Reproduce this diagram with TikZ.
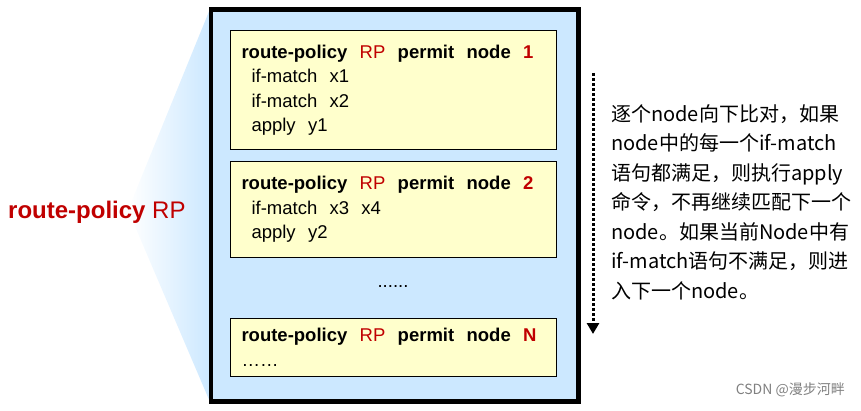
\documentclass[tikz,border=0pt]{standalone}
\usepackage{fontspec}
\setmainfont{Liberation Sans}
\newfontfamily\cjkfont{Noto Sans CJK SC}
\usetikzlibrary{positioning, arrows.meta}

\definecolor{rpred}{HTML}{C00000}
\definecolor{paneblue}{HTML}{CCE8FF}
\definecolor{nodeyellow}{HTML}{FFFFCC}

\tikzset{
    nodebox/.style={draw, line width=1pt, fill=nodeyellow, anchor=north west, align=left,
        minimum width=326pt, text width=304pt, inner xsep=11pt, inner ysep=0pt,
        font=\fontsize{18.5}{24.5}\selectfont},
}
\newcommand{\rp}{\textmd{\textcolor{rpred}{RP}}}
\newcommand{\ind}{\hspace*{10pt}}

\begin{document}
\begin{tikzpicture}[x=1pt, y=-1pt]
    \useasboundingbox (0, 0) rectangle (861, 411);
    \node (pane) [draw, line width=3pt, fill=paneblue, anchor=north west, minimum width=366pt, minimum height=390pt] at (210, 9) {};
    \coordinate (apex) at (128, 210);
    \shade [left color=white, middle color=paneblue!35, right color=paneblue] (pane.north west) -- (apex) -- (pane.south west) -- cycle;
    \draw [line width=3pt] (pane.north west) rectangle (pane.south east);

    \node (label) [anchor=west, inner sep=0pt, font=\fontsize{24}{24}\selectfont, text=rpred] at (8, 212) {\textbf{route-policy} RP};

    \node (node1) [nodebox, minimum height=119pt] at (230, 30) {\textbf{route-policy~~\rp~~permit~~node~~\textcolor{rpred}{1}}\\
        \ind if-match~~x1\\
        \ind if-match~~x2\\
        \ind apply~~y1};
    \node (node2) [nodebox, minimum height=96pt] at (230, 161) {\textbf{route-policy~~\rp~~permit~~node~~\textcolor{rpred}{2}}\\
        \ind if-match~~x3~~x4\\
        \ind apply~~y2};
    \node (dots) [font=\fontsize{18.5}{24.5}\selectfont] at (393, 287) {......};
    \node (nodeN) [nodebox, minimum height=58pt] at (230, 318) {\textbf{route-policy~~\rp~~permit~~node~~\textcolor{rpred}{N}}\\
        ……};

    % direction of matching
    \coordinate (flowtop) at (593, 73);
    \coordinate (flowend) at (593, 334);
    \draw [line width=3pt, dash pattern=on 3pt off 2pt, -{Triangle[length=11pt, width=12pt]}] (flowtop) -- (flowend);

    \node (note) [anchor=west, align=left, inner sep=0pt, font=\cjkfont\fontsize{20}{29.5}\selectfont] at (611, 202) {逐个node向下比对，如果\\
        node中的每一个if-match\\
        语句都满足，则执行apply\\
        命令，不再继续匹配下一个\\
        node。如果当前Node中有\\
        if-match语句不满足，则进\\
        入下一个node。};

    \node (mark) [anchor=east, inner sep=0pt, text=gray, font=\cjkfont\fontsize{14}{14}\selectfont] at (845, 390) {CSDN @漫步河畔};
\end{tikzpicture}
\end{document}
